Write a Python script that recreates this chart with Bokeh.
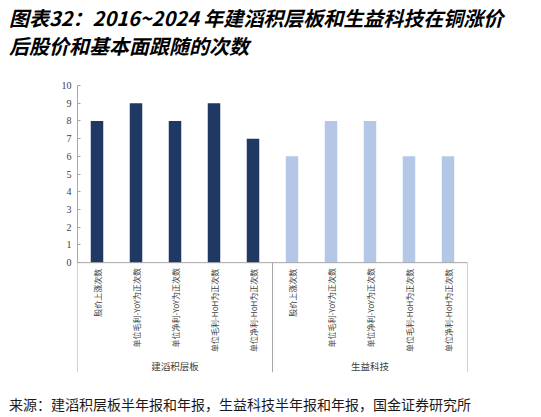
from math import pi

from bokeh.core.properties import value
from bokeh.embed import file_html
from bokeh.layouts import column, row
from bokeh.models import ColumnDataSource, Div, FactorRange, FixedTicker, Range1d, Span
from bokeh.plotting import figure
from bokeh.resources import INLINE

# data
groups = ["建滔积层板", "生益科技"]
items = ["股价上涨次数", "单位毛利-YoY为正次数", "单位净利-YoY为正次数",
         "单位毛利-HoH为正次数", "单位净利-HoH为正次数"]
kb_counts = [8, 9, 8, 9, 7]   # 建滔积层板
sy_counts = [6, 8, 8, 6, 6]   # 生益科技
y_ticks = list(range(0, 11))

title_lines = ["图表32：2016~2024 年建滔积层板和生益科技在铜涨价", "后股价和基本面跟随的次数"]
source_note = "来源：建滔积层板半年报和年报，生益科技半年报和年报，国金证券研究所"

dark = "#1f3864"
light = "#b4c7e7"
rule_color = "#1f5f86"
axis_grey = "#a6a6a6"
cjk = "Noto Sans CJK SC"
W = 541

factors = [(g, it) for g in groups for it in items]
src = ColumnDataSource(dict(
    x=factors,
    top=kb_counts + sy_counts,
    color=[dark] * len(kb_counts) + [light] * len(sy_counts),
    label=items * len(groups),
))

p = figure(width=W, height=312,
           x_range=FactorRange(*factors, factor_padding=0, group_padding=0, range_padding=0),
           y_range=Range1d(-6.2, 10),
           x_axis_location=None,
           output_backend="svg", toolbar_location=None,
           min_border_left=77, min_border_right=74, min_border_top=15, min_border_bottom=10)
p.outline_line_color = None
p.grid.visible = False

p.vbar(x="x", top="top", width=0.32, color="color", line_color=None, source=src)

ax = p.yaxis[0]
ax.ticker = FixedTicker(ticks=y_ticks)
ax.bounds = (0, 10)
ax.axis_line_color = axis_grey
ax.major_tick_line_color = axis_grey
ax.major_tick_in = 3
ax.major_tick_out = 0
ax.minor_tick_line_color = None
ax.major_label_standoff = 6
ax.major_label_text_font = "Liberation Serif"
ax.major_label_text_font_size = "10px"
ax.major_label_text_color = "#404040"

# category axis line at zero
p.add_layout(Span(location=0, dimension="width", line_color=axis_grey, line_width=1))

# group separators
sep_x = [(g, items[0], -0.5) for g in groups] + [(groups[-1], items[-1], 0.5)]
p.segment(x0=sep_x, x1=sep_x, y0=[0] * len(sep_x), y1=[-6.2] * len(sep_x),
          line_color=axis_grey, line_width=1)

# category labels (vertical)
p.text(x="x", y=-0.34, text="label", source=src, angle=pi / 2,
       text_align="right", text_baseline="middle",
       text_font=value(cjk), text_font_size="8px", text_color="#404040")

# group labels
p.text(x=[(g, items[2]) for g in groups], y=[-5.85] * len(groups), text=groups,
       text_align="center", text_baseline="middle",
       text_font=value(cjk), text_font_size="9.5px", text_color="#404040")


def rule(at):
    # a 4px strip whose whole frame holds one horizontal rule
    r = figure(width=535, height=4, x_range=Range1d(0, 1), y_range=Range1d(4, 0),
               x_axis_location=None, y_axis_location=None,
               output_backend="svg", toolbar_location=None, min_border=0)
    r.outline_line_color = None
    r.grid.visible = False
    r.add_layout(Span(location=at, dimension="width", line_color=rule_color, line_width=2))
    return r


title_html = (
    '<div style="padding:4px 0 0 9px;white-space:nowrap;'
    'font-family:\'%s\';font-size:20px;font-weight:bold;font-style:italic;'
    'line-height:28px;color:#000000;">%s</div>' % (cjk, "<br>".join(title_lines))
)
note_html = (
    '<div style="padding:8px 0 0 9px;white-space:nowrap;'
    'font-family:\'%s\';font-size:14px;line-height:20px;color:#1a1a1a;">%s</div>'
    % (cjk, source_note)
)
title = Div(text=title_html, width=W, height=66, margin=(0, 0, 0, 0))
note = Div(text=note_html, width=W, height=31, margin=(0, 0, 0, 0))

layout = column(title, row(rule(2)), row(p), row(rule(1.5)), note, spacing=0)
open("out.html", "w").write(file_html(layout, INLINE))
